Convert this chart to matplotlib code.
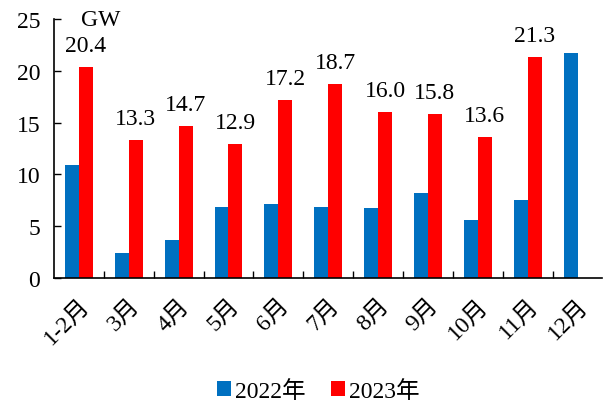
import matplotlib.pyplot as plt
import numpy as np

plt.rcParams['font.family'] = ['Liberation Serif', 'Noto Sans CJK SC']

months = ['1-2月', '3月', '4月', '5月', '6月', '7月', '8月', '9月', '10月', '11月', '12月']
y2022 = [10.9, 2.4, 3.7, 6.9, 7.1, 6.9, 6.8, 8.2, 5.6, 7.5, 21.7]
y2023 = [20.4, 13.3, 14.7, 12.9, 17.2, 18.7, 16.0, 15.8, 13.6, 21.3]

BLUE = '#0070C0'
RED = '#FF0000'
FS = 17

fig = plt.figure(figsize=(6.04, 4.10), dpi=100)
ax = fig.add_axes([0.0894, 0.3195, 0.908, 0.6315])

x = np.arange(len(months))
w = 0.28
ax.bar(x - 0.14, y2022, width=w, color=BLUE, label='2022年')
x23 = x[:len(y2023)]
ax.bar(x23 + 0.14, y2023, width=w, color=RED, label='2023年')

for xi, v in zip(x23, y2023):
    ax.annotate(f'{v:.1f}', (xi + 0.14, v), xytext=(0, 8), textcoords='offset points',
                ha='center', va='bottom', fontsize=FS)

ax.set_xlim(-0.5, len(months) - 0.5)
ax.set_ylim(0, 25)
ax.set_yticks(range(0, 26, 5))
ax.set_xticks(x)
ax.set_xticklabels(months, rotation=45, ha='right', rotation_mode='anchor', fontsize=FS)
ax.set_xticks(x[:-1] + 0.5, minor=True)
ax.tick_params(axis='x', which='major', length=0, pad=12)
ax.tick_params(axis='x', which='minor', direction='in', length=5, width=1)
ax.tick_params(axis='y', direction='in', length=5, width=1, labelsize=FS, pad=10)

for s in ['top', 'right']:
    ax.spines[s].set_visible(False)
for s in ['left', 'bottom']:
    ax.spines[s].set_linewidth(1.2)

ax.text(0.05, 1.0, 'GW', transform=ax.transAxes, fontsize=FS, ha='left', va='center')

fig.legend(loc='center', bbox_to_anchor=(0.527, 0.045), ncol=2, frameon=False,
           fontsize=FS, handlelength=0.6, handleheight=0.6, handletextpad=0.15,
           columnspacing=1.1)

fig.savefig('out.png', dpi=100)
